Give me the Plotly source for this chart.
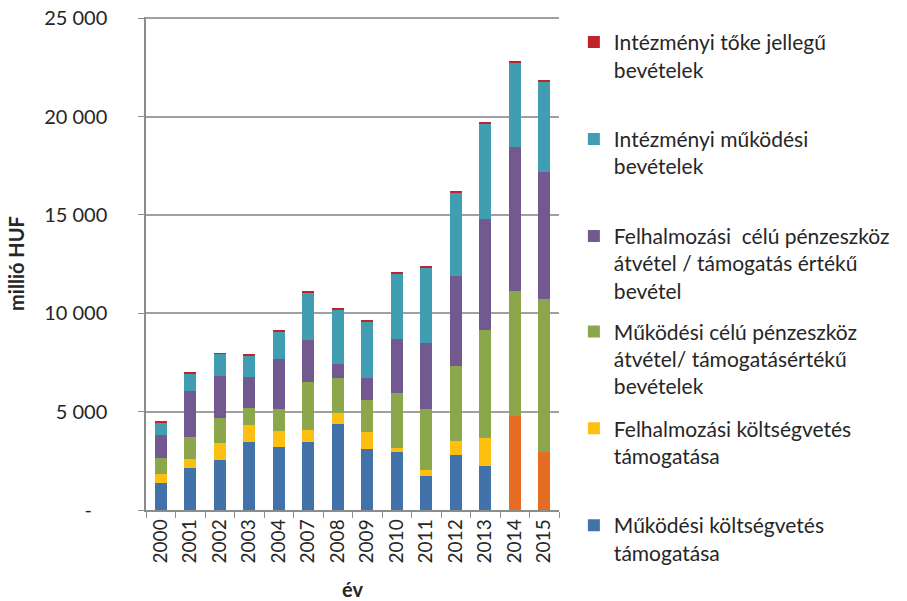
import plotly.graph_objects as go

years = ["2000", "2001", "2002", "2003", "2004", "2007", "2008", "2009",
         "2010", "2011", "2012", "2013", "2014", "2015"]

mukodesi_kv = [1390, 2130, 2520, 3470, 3200, 3480, 4380, 3090, 2940, 1750, 2810, 2250, 4780, 2970]
felhalm_kv = [450, 460, 910, 870, 830, 580, 560, 850, 220, 290, 680, 1390, 0, 0]
mukodesi_pe = [780, 1110, 1240, 830, 1080, 2460, 1750, 1630, 2800, 3070, 3820, 5520, 6330, 7750]
felhalm_pe = [1210, 2370, 2140, 1570, 2580, 2140, 730, 1130, 2730, 3370, 4580, 5630, 7340, 6460]
int_mukodesi = [620, 860, 1120, 1120, 1360, 2390, 2760, 2900, 3320, 3870, 4270, 4870, 4280, 4600]
int_toke = [60, 80, 50, 70, 50, 60, 50, 70, 70, 70, 60, 50, 50, 50]

names = [
    "Működési költségvetés<br>támogatása",
    "Felhalmozási költségvetés<br>támogatása<br>\u00a0",
    "Működési célú pénzeszköz<br>átvétel/ támogatásértékű<br>bevételek",
    "Felhalmozási\u00a0 célú pénzeszköz<br>átvétel / támogatás értékű<br>bevétel",
    "Intézményi működési<br>bevételek<br>\u00a0",
    "Intézményi tőke jellegű<br>bevételek<br>\u00a0",
]
series = [mukodesi_kv, felhalm_kv, mukodesi_pe, felhalm_pe, int_mukodesi, int_toke]
legend_ids = ["legend2", "legend2", "legend2", "legend", "legend", "legend"]
blue, orange = "#4172A9", "#E46C25"
colors = [
    [blue] * 12 + [orange] * 2,
    "#FDC010",
    "#8BA64B",
    "#72598F",
    "#409DB2",
    "#C0242B",
]

fig = go.Figure()
for i, (nm, vals, col, lg) in enumerate(zip(names, series, colors, legend_ids)):
    fig.add_trace(go.Bar(
        x=years, y=vals, name=nm, legendgroup=str(i), legendrank=6 - i,
        legend=lg,
        marker=dict(color=col, line=dict(width=0)),
    ))

font_family = "Lato, 'Open Sans', sans-serif"
tickvals = [0, 5000, 10000, 15000, 20000, 25000]
ticktext = ["-\u00a0\u00a0\u00a0", "5 000", "10 000", "15 000", "20 000", "25 000"]

legend_style = dict(
    traceorder="grouped", tracegroupgap=12,
    x=1.036, xanchor="left", yanchor="top",
    valign="top", itemwidth=30,
    font=dict(family=font_family, size=21, color="#262626"),
    bgcolor="rgba(0,0,0,0)",
)

fig.update_layout(
    width=907, height=601,
    barmode="stack", bargap=0.6,
    plot_bgcolor="white", paper_bgcolor="white",
    font=dict(family=font_family, size=19, color="#262626"),
    margin=dict(l=146, r=340, t=17, b=91),
    showlegend=True,
    legend=dict(legend_style, y=0.99),
    legend2=dict(legend_style, y=0.403),
    xaxis=dict(
        type="category", tickangle=-90,
        ticks="outside", tickson="boundaries", ticklen=6, tickcolor="#8c8c8c",
        showline=True, linecolor="#8c8c8c", linewidth=1.5,
        tickfont=dict(size=19),
        title=dict(text="<b>év</b>", font=dict(size=20), standoff=21),
        automargin=False,
    ),
    yaxis=dict(
        range=[0, 25060], tickvals=tickvals, ticktext=ticktext,
        ticks="outside", ticklen=6, tickcolor="#8c8c8c",
        showline=True, linecolor="#8c8c8c", linewidth=1.5,
        showgrid=True, gridcolor="#a0a0a0", gridwidth=1.5,
        zeroline=False,
        ticklabelstandoff=27, ticklabeloverflow="allow",
        tickfont=dict(size=20),
        title=dict(text="<b>millió HUF</b>", font=dict(size=20), standoff=14),
        automargin=False,
    ),
)

# remove the default 8px page margin so the figure fills the window exactly
fig.write_html(
    "out.html",
    config={"displayModeBar": False},
    post_script="document.body.style.margin='0';",
)
